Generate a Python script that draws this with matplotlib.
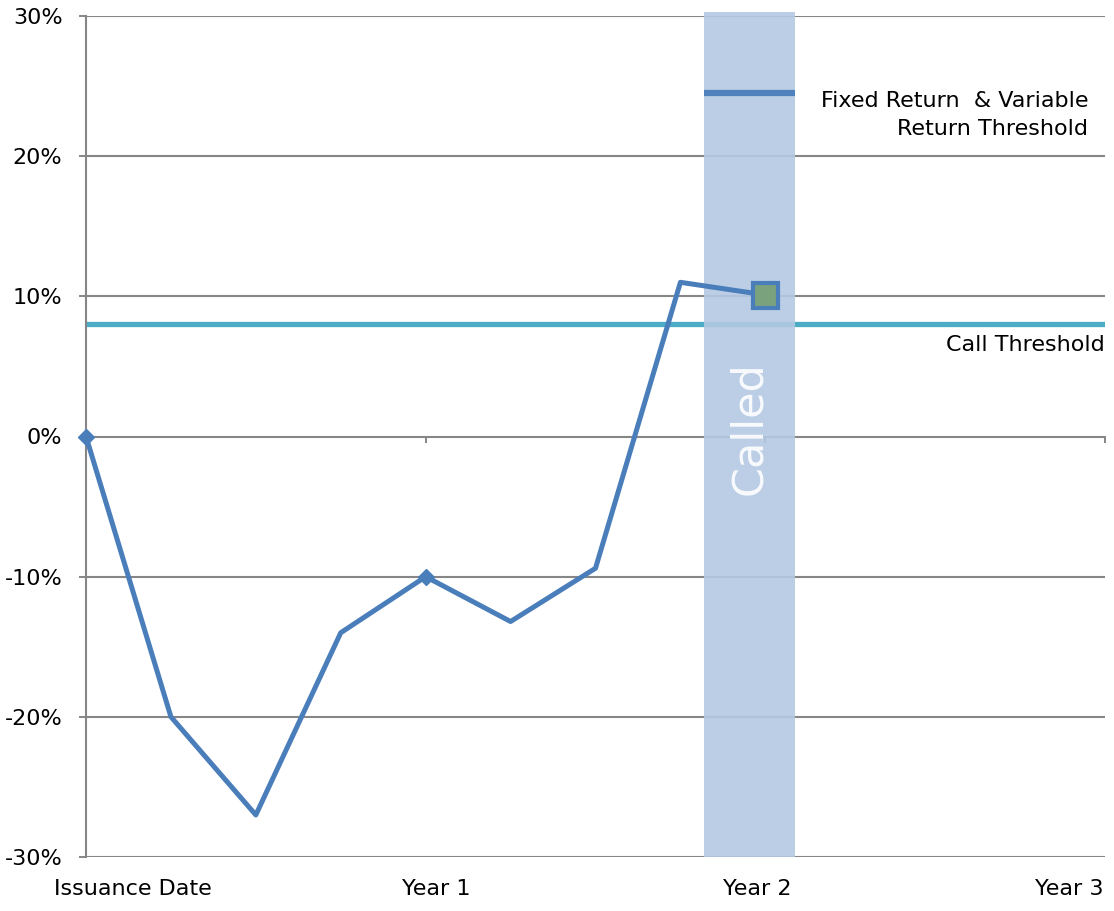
import matplotlib
matplotlib.use('Agg')
import matplotlib.pyplot as plt
import numpy as np

# Data (quarters since issuance, return)
quarters = [0, 1, 2, 3, 4, 5, 6, 7, 8]
returns = [0.0, -0.20, -0.27, -0.14, -0.10, -0.132, -0.094, 0.11, 0.101]
call_threshold = 0.08
fixed_return = 0.245
called_start, called_end = 7.28, 8.35
x_label_pos = [0.55, 4.12, 7.9, 11.58]
x_labels = ['Issuance Date', 'Year 1', 'Year 2', 'Year 3']
y_ticks = [-0.30, -0.20, -0.10, 0.0, 0.10, 0.20, 0.30]

plt.rcParams['font.family'] = ['DejaVu Sans']

fig = plt.figure(figsize=(11.14, 9.11), dpi=100)
ax = fig.add_axes([86 / 1114, 54 / 911, 1019 / 1114, 841 / 911])

grid_col = '#868686'
ax.set_xlim(0, 12)
ax.set_ylim(-0.30, 0.30)
ax.set_yticks(y_ticks)
ax.set_yticklabels([f'{int(round(v * 100))}%' for v in y_ticks], fontsize=16)
ax.tick_params(axis='y', length=5, width=1.4, color=grid_col, pad=12)
ax.set_xticks([])
for y in y_ticks:
    ax.axhline(y, color=grid_col, lw=1.5, zorder=1)
for s in ['top', 'right', 'bottom']:
    ax.spines[s].set_visible(False)
ax.spines['left'].set_color(grid_col)
ax.spines['left'].set_linewidth(1.5)

# zero axis with tick marks
sec = ax.secondary_xaxis(0.5)
sec.set_xticks([4, 8, 12])
sec.set_xticklabels([])
sec.tick_params(direction='in', length=5, width=1.4, color=grid_col)
sec.spines['bottom'].set_visible(False)
sec.spines['top'].set_visible(False)

# category labels
for xp, lab in zip(x_label_pos, x_labels):
    ax.text(xp, -0.3225, lab, ha='center', va='center', fontsize=16, clip_on=False)

# call threshold
ax.axhline(call_threshold, color='#4bacc6', lw=3.8, zorder=2)
ax.text(12, 0.065, 'Call Threshold', ha='right', va='center', fontsize=16)

# called band
ax.fill_between([called_start, called_end], -0.30, 0.303, color='#b4c9e3',
                alpha=0.9, lw=0, zorder=3, clip_on=False)
ax.text((called_start + called_end) / 2, 0.006, 'Called', rotation=90,
        ha='center', va='center', fontsize=31, color='white', alpha=0.9, zorder=4)

# fixed return segment
ax.plot([called_start, called_end], [fixed_return, fixed_return], color='#4f81bd',
        lw=4.5, solid_capstyle='butt', zorder=5)
ax.text(11.8, 0.2293, 'Fixed Return  & Variable\nReturn Threshold', ha='right',
        va='center', fontsize=16, linespacing=1.55)

# return path
ax.plot(quarters, returns, color='#4a7ebb', lw=3.6, zorder=6,
        marker='D', markersize=8, markevery=[0, 4], clip_on=False)
ax.plot(quarters[-1], returns[-1], marker='s', markersize=18, markerfacecolor='#7aa37d',
        markeredgecolor='#4a7ebb', markeredgewidth=3, zorder=7)

fig.savefig('out.png', dpi=100)
